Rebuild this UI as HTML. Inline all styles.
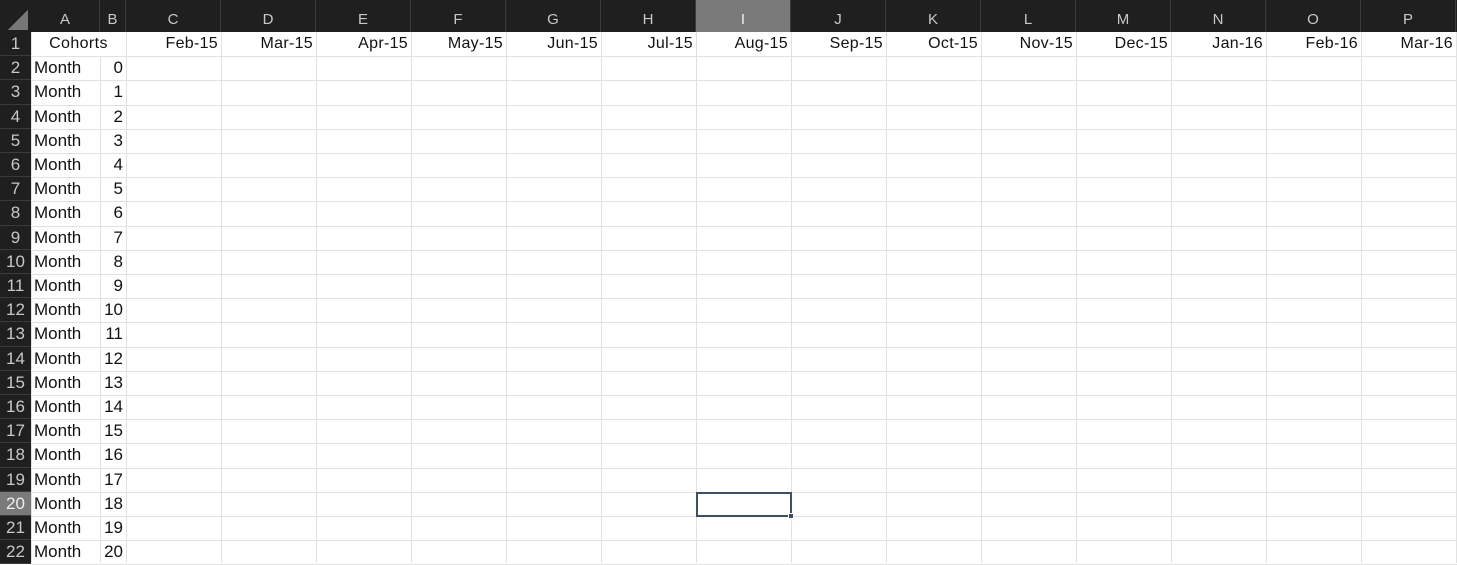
<!DOCTYPE html>
<html><head><meta charset="utf-8"><style>
body{margin:0;width:1457px;height:563px;overflow:hidden;background:#fff;font-family:"Liberation Sans",sans-serif;position:relative}
.c{position:absolute;box-sizing:border-box;font-size:16px;line-height:24px;white-space:nowrap}
.hd{background:#1f1f1f;color:#c8c8c8;text-align:center}
.gl{position:absolute;background:#e1e1e1}
</style></head><body>
<div id="g"></div>
<script>
const colLetters=["A","B","C","D","E","F","G","H","I","J","K","L","M","N","O","P"];
const months=["Feb-15","Mar-15","Apr-15","May-15","Jun-15","Jul-15","Aug-15","Sep-15","Oct-15","Nov-15","Dec-15","Jan-16","Feb-16","Mar-16"];
const rowCount=22;
const g=document.getElementById('g');
const colX=[31,100,126];for(let i=1;i<=14;i++)colX.push(126+95*i);
const RH=24.2,TOP=32;
function el(cls,x,y,w,h,txt,style){const d=document.createElement('div');d.className=cls;d.style.cssText=`left:${x}px;top:${y}px;width:${w}px;height:${h}px;`+(style||'');if(txt!==undefined)d.textContent=txt;g.appendChild(d);return d;}
for(let i=0;i<colX.length;i++){const y0=(i===1)?TOP+RH:TOP;const d=el('gl',colX[i],y0,1,563-y0);

}
for(let r=1;r<=rowCount;r++){const d=el('gl',31,TOP+r*RH,1457-31,1);

}
let hb=el('c hd',0,0,1457,32);


let rb=el('c hd',0,32,31,531);


let corner=el('c',8,10,20,20,'','background:linear-gradient(135deg,transparent 50%,#777 50%);');


for(let i=0;i<colLetters.length;i++){const x=colX[i],w=colX[i+1]-x;
const sel=colLetters[i]==='I';
const d=el('c hd',x,0,w,32,colLetters[i],'font-size:15px;line-height:40px;border-right:1px solid #3a3a3a;'+(sel?'background:#7a7a7a;color:#eee;':''));

}
for(let r=1;r<=rowCount;r++){const sel=r===20;
const d=el('c hd',0,TOP+(r-1)*RH,31,RH,String(r),'font-size:17px;border-bottom:1px solid #3a3a3a;'+(sel?'background:#7a7a7a;color:#eee;':''));

}
let co=el('c',31,TOP,95,RH,'Cohorts','text-align:center;color:#111;letter-spacing:0.4px;');


for(let i=0;i<months.length;i++){const d=el('c',colX[i+2],TOP,95,RH,months[i],'text-align:right;padding-right:3px;color:#111;letter-spacing:0.3px;');

}
for(let r=2;r<=rowCount;r++){const y=TOP+(r-1)*RH;
const a=el('c',31,y,69,RH,'Month','padding-left:3px;color:#111;font-size:17px;');


const b=el('c',100,y,26,RH,String(r-2),'text-align:right;padding-right:3px;color:#111;font-size:17px;');

}
const s=el('c',colX[8],TOP+19*RH,96,RH+1,'','border:2px solid #3c4f66;');


const h=el('c',colX[9]-3,TOP+20*RH-3,6,6,'','background:#3c4f66;border:1px solid #fff;');


</script>
</body></html>
